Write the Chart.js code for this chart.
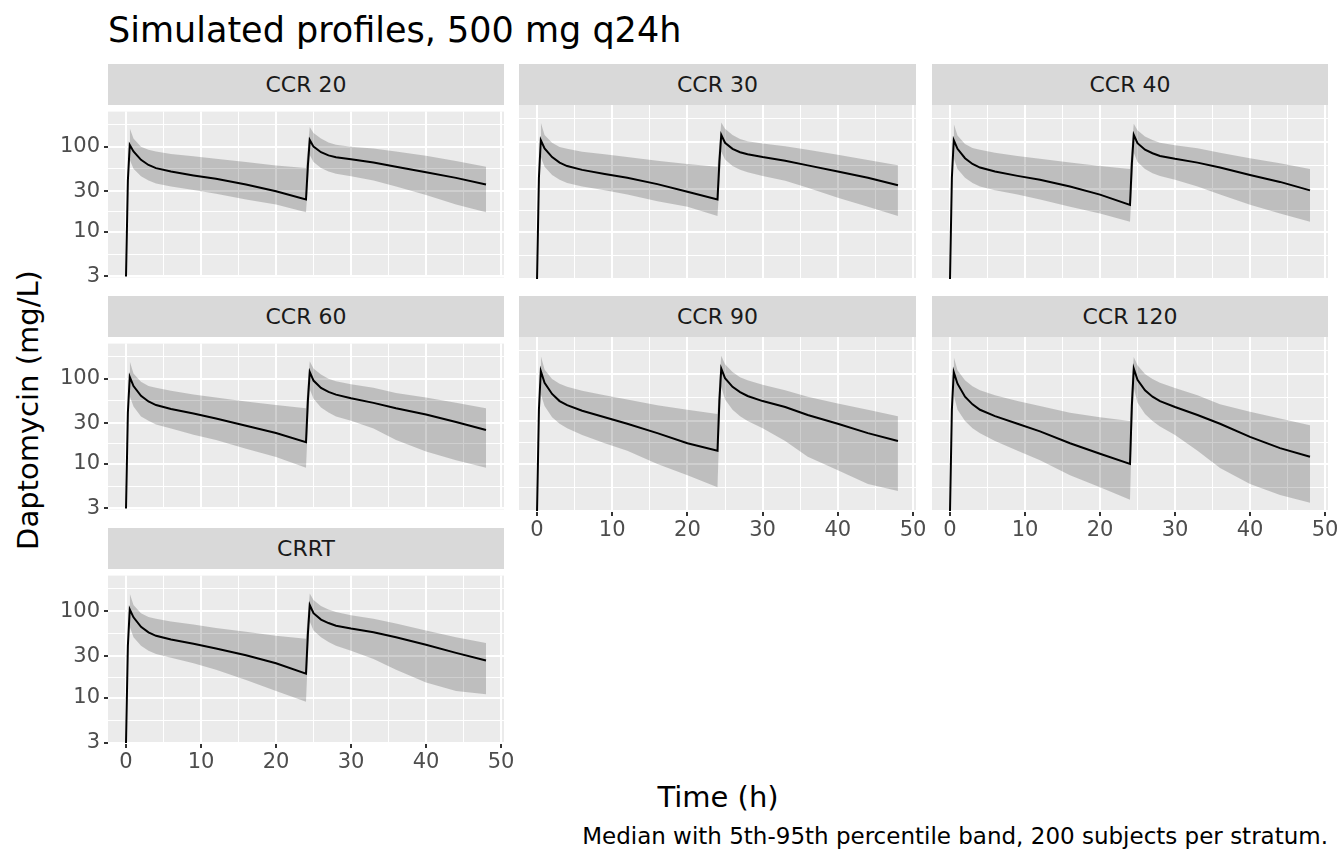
<!DOCTYPE html>
<html><head><meta charset="utf-8">
<script src="https://cdn.jsdelivr.net/npm/chart.js@4/dist/chart.umd.min.js"></script>
<style>
body{margin:0;width:1344px;height:864px;background:#fff;position:relative;font-family:"DejaVu Sans",sans-serif;overflow:hidden}
.abs{position:absolute;white-space:nowrap}
.strip{position:absolute;background:#d9d9d9;color:#1a1a1a;font-size:22px;display:flex;align-items:center;justify-content:center}
canvas{position:absolute}
</style></head><body>
<div class="abs" style="left:108px;top:30px;transform:translateY(-50%);font-size:35px;color:#000">Simulated profiles, 500 mg q24h</div>
<div class="abs" style="left:28px;top:410px;transform:translate(-50%,-50%) rotate(-90deg);font-size:29px">Daptomycin (mg/L)</div>
<div class="abs" style="left:718px;top:797px;transform:translate(-50%,-50%);font-size:29px">Time (h)</div>
<div class="abs" style="right:16px;top:836px;transform:translateY(-50%);font-size:23px">Median with 5th-95th percentile band, 200 subjects per stratum.</div>
<script>
const times=[0,0.25,0.5,1,2,3,4,6,9,12,16,20,24,24.25,24.5,25,26,27,28,30,33,36,40,44,48];
const panels=["CCR 20","CCR 30","CCR 40","CCR 60","CCR 90","CCR 120","CRRT"];
const N=null;
const med={
"CCR 20":[3,40,105,88,70,61,56,51,46,42,36,30,24,60,120,100,86,79,75,71,65,58,50,43,36],
"CCR 30":[3,40,105,85,68,59,54,49,44,40,34,28,23,60,120,98,84,77,73,68,62,55,47,40,33],
"CCR 40":[3,40,105,84,66,57,52,47,42,38,32,26,20,58,120,97,82,75,70,65,59,52,43,36,29],
"CCR 60":[3,40,105,82,63,54,49,44,39,34,28,23,18,55,120,95,78,70,65,59,52,45,38,31,25],
"CCR 90":[3,40,108,80,60,50,45,39,33,28,22,17,14,50,115,90,72,63,57,50,43,35,28,22,18],
"CCR 120":[3,40,105,78,56,46,40,34,28,23,17,13,10,45,115,86,66,56,50,43,35,28,20,15,12],
"CRRT":[3,40,105,85,66,57,52,47,42,37,31,25,19,55,118,95,80,73,68,63,57,50,41,33,27]};
const p95={
"CCR 20":[N,N,165,125,100,92,88,82,77,72,66,60,56,100,170,145,125,112,105,100,95,88,78,68,58],
"CCR 30":[N,N,165,120,98,88,84,78,73,68,62,57,53,95,165,140,120,108,102,96,90,82,72,63,55],
"CCR 40":[N,N,160,118,95,86,82,76,70,65,59,54,50,95,160,135,115,105,98,92,85,76,66,58,50],
"CCR 60":[N,N,160,115,92,82,78,72,65,60,54,49,45,92,160,132,112,100,93,86,78,68,60,52,45],
"CCR 90":[N,N,160,112,88,78,72,65,58,52,45,40,36,90,160,128,105,92,85,76,66,56,47,40,34],
"CCR 120":[N,N,155,110,85,73,66,58,50,44,37,33,30,85,155,125,100,88,80,70,58,46,38,32,27],
"CRRT":[N,N,160,118,95,86,82,76,70,64,58,52,48,92,160,135,115,105,98,90,82,72,60,50,43]};
const p5={
"CCR 20":[N,N,70,55,45,40,37,34,31,28,24,21,17,35,80,66,56,51,48,45,40,34,27,21,17],
"CCR 30":[N,N,68,53,43,38,35,32,29,26,22,19,15,33,78,64,54,49,46,42,37,31,24,19,15],
"CCR 40":[N,N,66,50,40,35,32,29,26,23,19,16,13,30,76,60,50,45,42,38,32,26,20,16,13],
"CCR 60":[N,N,62,47,36,32,29,26,22,19,15,12,9,28,75,58,46,40,36,32,26,19,14,11,9],
"CCR 90":[N,N,60,44,33,28,25,21,17,14,10,7.5,5.5,25,72,52,40,34,30,25,18,12,8.5,6,5],
"CCR 120":[N,N,58,40,30,25,22,18,14,11,7.5,5.5,4,22,70,48,36,30,26,21,14,9,6,4.5,3.7],
"CRRT":[N,N,66,50,40,35,32,29,25,21,16,12,9,30,76,60,50,44,40,35,28,21,15,12,11]};
const yTicks=[3,10,30,100];
const yMinor=[5.477,17.32,54.77,182.6];
const xTicks=[0,10,20,30,40,50];
const xMinor=[5,15,25,35,45];

const colsX=[[108,504],[519,916],[932,1328]];
const rowsY=[[105,280],[337,512],[569,744]];
const pos=[[0,0],[0,1],[0,2],[1,0],[1,1],[1,2],[2,0]];
const xLabelPanels=["CCR 90","CCR 120","CRRT"];
const YW=64,XH=34,PR=20,PB=14,PT=10;
const bg={id:'bg',beforeDraw(c){const a=c.chartArea,x=c.ctx;x.save();x.fillStyle='#ebebeb';x.fillRect(a.left,a.top,a.right-a.left,a.bottom-a.top);x.restore();}};
const tickFont={family:'DejaVu Sans',size:21};
panels.forEach((p,i)=>{
  const [r,c]=pos[i];const [x0,x1]=colsX[c];const [y0,y1]=rowsY[r];
  const s=document.createElement('div');s.className='strip';
  s.style.left=x0+'px';s.style.top=(y0-41)+'px';s.style.width=(x1-x0)+'px';s.style.height='41px';s.textContent=p;
  document.body.appendChild(s);
  const showY=c===0, showX=xLabelPanels.includes(p);
  const yw=showY?YW:0, xh=showX?XH:0;
  const cv=document.createElement('canvas');
  const W=(x1-x0)+yw+PR, H=(y1-y0)+xh+PB+PT;
  cv.style.left=(x0-yw)+'px';cv.style.top=(y0-PT)+'px';cv.style.width=W+'px';cv.style.height=H+'px';
  document.body.appendChild(cv);
  const mk=a=>times.map((t,k)=>({x:t,y:a[k]}));
  new Chart(cv,{type:'line',data:{datasets:[
    {data:mk(p95[p]),borderWidth:0,pointRadius:0,fill:'+1',backgroundColor:'rgba(0,0,0,0.19)',spanGaps:false},
    {data:mk(p5[p]),borderWidth:0,pointRadius:0,fill:false},
    {data:mk(med[p]),borderColor:'#000',borderWidth:2,pointRadius:0,fill:false}
  ]},plugins:[bg],options:{responsive:false,devicePixelRatio:1,animation:false,
    layout:{padding:{right:PR,bottom:PB,top:PT,left:0}},
    plugins:{legend:{display:false},tooltip:{enabled:false}},
    scales:{
      x:{type:'linear',min:-2.4,max:50.4,border:{display:false},
        afterBuildTicks:a=>{a.ticks=[...xTicks,...xMinor].sort((u,v)=>u-v).map(v=>({value:v}));},
        afterFit:a=>{a.height=xh;},
        grid:{color:'#fff',lineWidth:ctx=>xTicks.includes(ctx.tick&&ctx.tick.value)?2:1,drawTicks:showX,tickLength:4,
          tickColor:ctx=>xTicks.includes(ctx.tick&&ctx.tick.value)?'#333':'rgba(0,0,0,0)'},
        ticks:{display:showX,autoSkip:false,maxRotation:0,color:'#4d4d4d',font:tickFont,padding:2,
          callback:v=>xTicks.includes(v)?String(v):''}},
      y:{type:'logarithmic',min:2.92,max:258,border:{display:false},
        afterBuildTicks:a=>{a.ticks=[...yTicks,...yMinor].sort((u,v)=>u-v).map(v=>({value:v}));},
        afterFit:a=>{a.width=yw;},
        grid:{color:'#fff',lineWidth:ctx=>yTicks.includes(ctx.tick&&ctx.tick.value)?2:1,drawTicks:showY,tickLength:4,
          tickColor:ctx=>yTicks.includes(ctx.tick&&ctx.tick.value)?'#333':'rgba(0,0,0,0)'},
        ticks:{display:showY,autoSkip:false,color:'#4d4d4d',font:tickFont,padding:4,
          callback:v=>yTicks.includes(v)?String(v):''}}
    }}});
});
</script>
</body></html>
